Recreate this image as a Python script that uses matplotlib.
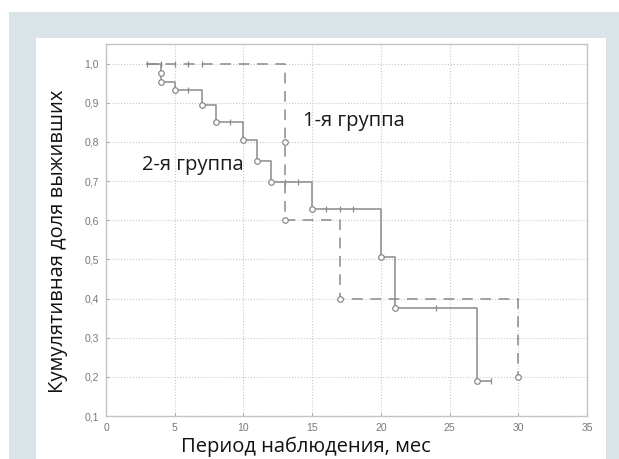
import numpy as np
import matplotlib
matplotlib.use("Agg")
import matplotlib.pyplot as plt
from matplotlib.patches import Rectangle

# группа 2 (сплошная линия): моменты событий и доля выживших после них
t2 = [4, 4, 5, 7, 8, 10, 11, 12, 15, 20, 21, 27]
s2 = [0.976, 0.954, 0.932, 0.894, 0.852, 0.804, 0.751, 0.698, 0.629, 0.506, 0.377, 0.19]
t2_start, t2_end = 3, 28
# цензурированные наблюдения группы 2
c2_t = [6, 9, 13, 14, 16, 17, 18, 24, 28]
c2_s = [0.932, 0.852, 0.698, 0.698, 0.629, 0.629, 0.629, 0.377, 0.19]

# группа 1 (пунктир)
t1 = [13, 13, 17, 30]
s1 = [0.8, 0.6, 0.4, 0.2]
t1_start, t1_end = 3, 30
c1_t = [3, 4, 5, 6, 7]
c1_s = [1.0, 1.0, 1.0, 1.0, 1.0]

xticks = [0, 5, 10, 15, 20, 25, 30, 35]
yticks = [0.1, 0.2, 0.3, 0.4, 0.5, 0.6, 0.7, 0.8, 0.9, 1.0]

fig = plt.figure(figsize=(6.19, 4.59), dpi=100)
W, H = 619, 459
# фон: серо-голубая подложка и белая панель
fig.patches.append(Rectangle((9 / W, 0), 1 - 9 / W, 1 - 12 / H, transform=fig.transFigure,
                             facecolor="#d9e3e8", edgecolor="none", zorder=-2))
fig.patches.append(Rectangle((36 / W, 0), (606 - 36) / W, 1 - 38 / H, transform=fig.transFigure,
                             facecolor="white", edgecolor="none", zorder=-1))

ax = fig.add_axes([106 / W, 1 - 416 / H, (587 - 106) / W, (416 - 44) / H])
ax.set_facecolor("none")

col = "#8a8a8a"
# ступенчатые кривые Каплана-Мейера
x2 = [t2_start] + t2 + [t2_end]
y2 = [1.0] + s2 + [s2[-1]]
ax.plot(x2, y2, drawstyle="steps-post", color=col, lw=1.1)
ax.plot(t2, s2, "o", mfc="white", mec=col, ms=4, mew=0.9)
ax.plot(c2_t, c2_s, "|", color=col, ms=5, mew=0.9)

x1 = [t1_start] + t1 + [t1_end]
y1 = [1.0] + s1 + [s1[-1]]
ax.plot(x1, y1, drawstyle="steps-post", color=col, lw=1.1, dashes=(7, 5))
ax.plot(t1, s1, "o", mfc="white", mec=col, ms=4, mew=0.9)
ax.plot(c1_t, c1_s, "|", color=col, ms=5, mew=0.9)

ax.text(14.36, 0.841, "1-я группа", fontsize=14.5, family="Open Sans",
        color="#1a1a1a", va="baseline")
ax.text(2.6, 0.729, "2-я группа", fontsize=14.5, family="Open Sans",
        color="#1a1a1a", va="baseline")

ax.set_xlim(0, 35)
ax.set_ylim(0.1, 1.05)
ax.set_xticks(xticks)
ax.set_yticks(yticks)
ax.set_xticklabels([str(v) for v in xticks])
ax.set_yticklabels([("%.1f" % v).replace(".", ",") for v in yticks])
ax.tick_params(direction="in", length=2, color="#aaaaaa", labelsize=7.5,
               labelcolor="#777777", pad=5)
for lbl in ax.get_xticklabels() + ax.get_yticklabels():
    lbl.set_family("Liberation Sans")
ax.grid(True, ls=":", color="#c8c8c8", lw=0.8)
for sp in ax.spines.values():
    sp.set_color("#c4c4c4")
    sp.set_linewidth(1.0)

fig.text(58 / W, 1 - 241 / H, "Кумулятивная доля выживших", rotation=90, fontsize=14.5,
         family="Open Sans", color="#111111", ha="center", va="center")
fig.text(306 / W, 1 - 447 / H, "Период наблюдения, мес", fontsize=14.5,
         family="Open Sans", color="#111111", ha="center", va="center")

fig.savefig("out.png", dpi=100)
